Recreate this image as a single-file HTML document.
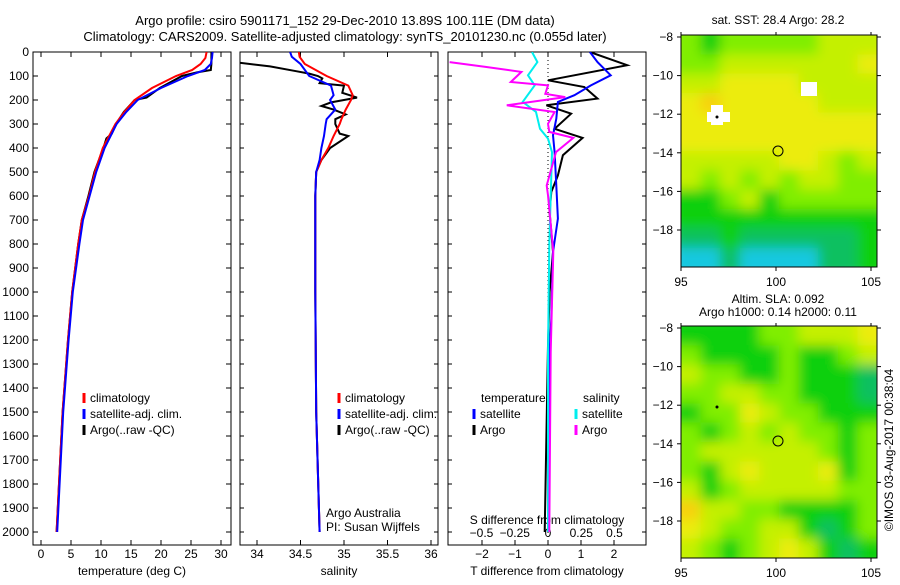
<!DOCTYPE html>
<html><head><meta charset="utf-8"><style>
body{margin:0;background:#fff;width:900px;height:580px;overflow:hidden;font-family:"Liberation Sans",sans-serif}
svg text{font-family:"Liberation Sans",sans-serif;font-size:12px;fill:#000}
</style></head><body>
<svg id="c" width="900" height="580">
<defs>
<filter id="blur" filterUnits="userSpaceOnUse" x="660" y="0" width="240" height="580"><feGaussianBlur stdDeviation="6"/></filter>
<clipPath id="m1"><rect x="681" y="35" width="196" height="232"/></clipPath>
<clipPath id="m2"><rect x="681" y="326" width="196" height="232"/></clipPath>
</defs>
<text x="345" y="25" text-anchor="middle" style="font-size:13px">Argo profile: csiro 5901171_152 29-Dec-2010 13.89S 100.11E (DM data)</text>
<text x="345" y="41" text-anchor="middle" style="font-size:13px">Climatology: CARS2009. Satellite-adjusted climatology: synTS_20101230.nc (0.055d later)</text>
<g id="panels"></g>
<g>
<text x="778" y="24" text-anchor="middle">sat. SST: 28.4 Argo: 28.2</text>
<g clip-path="url(#m1)"><g id="sstcells" filter="url(#blur)"></g></g>
<rect x="801" y="82" width="16" height="14" fill="#fff"/>
<rect x="711" y="105" width="12" height="20" fill="#fff"/><rect x="707" y="112" width="23" height="10" fill="#fff"/>
<circle cx="717" cy="117" r="1.5" fill="#000"/>
<circle cx="778" cy="151" r="5" fill="none" stroke="#000"/>
<rect x="681" y="35" width="196" height="232" fill="none" stroke="#000"/>
</g>
<text x="778" y="303" text-anchor="middle">Altim. SLA: 0.092</text>
<text x="778" y="316" text-anchor="middle">Argo h1000: 0.14 h2000: 0.11</text>
<g>
<g clip-path="url(#m2)"><g id="slacells" filter="url(#blur)"></g></g>
<circle cx="717" cy="407" r="1.5" fill="#000"/>
<circle cx="778" cy="441" r="5" fill="none" stroke="#000"/>
<rect x="681" y="326" width="196" height="232" fill="none" stroke="#000"/>
</g>
<text x="893" y="450" text-anchor="middle" transform="rotate(-90 893 450)">©IMOS 03-Aug-2017 00:38:04</text>
</svg>
<script>
const depthsT=[0,25,50,75,100,150,200,250,300,400,500,600,700,800,1000,1200,1500,2000];
const tempClim=[27.6,27.4,26.6,25.2,22.5,18.5,15.6,13.9,12.4,10.3,9.0,8.0,6.8,6.2,5.2,4.5,3.6,2.6];
const tempSat=[28.6,28.5,28.3,27.3,24.5,20.0,16.1,14.2,12.6,10.6,9.2,8.1,7.0,6.4,5.3,4.6,3.7,2.7];
const depthsArgo=[0,50,75,85,100,150,190,200,250,300,340,360,400,500,600,700,800,1000,1200,1500,2000];
const tempArgo=[28.4,28.4,28.3,26.0,23.5,19.8,17.6,15.6,13.8,12.5,11.8,10.9,10.4,8.9,7.9,6.8,6.2,5.2,4.5,3.6,2.6];
const depthsS=[0,20,50,100,140,180,200,240,280,300,350,400,450,500,600,1000,1500,2000];
const salClim=[34.48,34.49,34.55,34.8,35.05,35.1,35.08,35.02,34.97,34.95,34.88,34.82,34.74,34.68,34.67,34.67,34.68,34.72];
const salSat=[34.38,34.4,34.5,34.6,34.85,34.88,34.84,34.9,34.8,34.79,34.77,34.74,34.72,34.68,34.67,34.67,34.68,34.72];
const depthsSA=[45,60,80,90,100,110,130,140,170,190,210,225,240,260,280,300,340,350,400,450,500,600,1000,1500,2000];
const salArgo=[33.8,34.15,34.45,34.6,34.7,34.75,34.72,35.0,34.98,35.15,34.85,34.74,34.88,35.02,34.9,34.9,34.95,35.05,34.84,34.74,34.68,34.67,34.67,34.68,34.72];
const depthsTA=[0,55,118,146,194,222,257,320,358,430,514,583,667,833,1000,1222,1600,2000];
const tdiffArgo=[1.27,2.4,0.0,1.1,1.5,-0.05,0.7,0.2,1.05,0.45,0.3,0.1,0.05,0.15,0.05,0.0,-0.05,-0.1];
const depthsTS=[0,42,97,139,180,208,278,347,417,556,694,833,1111,1250,1600,2000];
const tdiffSat=[1.27,1.5,1.9,1.3,0.8,0.3,0.25,0.15,0.2,0.25,0.3,0.15,0.1,0.05,0.03,0.02];
const depthsSS=[0,42,97,139,208,250,320,361,417,800,1250,2000];
const sdiffSat=[-0.12,-0.08,-0.15,-0.1,-0.19,-0.09,-0.06,0.0,0.03,0.01,0.0,0.0];
const depthsSA2=[42,62,83,125,139,174,188,222,250,299,333,358,417,556,597,833,1250,2000];
const sdiffArgo=[-0.74,-0.47,-0.2,-0.28,0.0,-0.02,0.13,-0.31,0.05,0.0,0.01,0.19,0.06,-0.01,0.0,0.04,0.02,0.01];
const depthTicks=[0,100,200,300,400,500,600,700,800,900,1000,1100,1200,1300,1400,1500,1600,1700,1800,1900,2000];
const tTicks=[0,5,10,15,20,25,30];
const sTicks=[34,34.5,35,35.5,36];
const tdTicks=[-2,-1,0,1,2];
const sdTicks=[-0.5,-0.25,0,0.25,0.5];
const latTicks=[-8,-10,-12,-14,-16,-18];
const lonTicks=[95,100,105];
const sstLevels=[
[2,1,2,2,2,2,2,3,3,3],[2,2,3,3,3,3,3,3,3,4],[3,3,4,4,4,4,3,3,3,3],[4,5,4,4,4,4,4,3,3,3],
[4,4,4,4,4,4,4,4,4,4],[4,4,4,4,4,4,4,4,4,4],[3,3,3,3,3,4,4,3,2,3],[3,2,3,2,3,2,3,3,2,2],
[1,1,2,3,1,2,2,2,2,2],[1,1,1,1,1,1,1,1,1,1],[0,0,1,0,0,0,0,0,0,1],[6,6,0,6,6,6,6,0,0,1]];
const slaLevels=[
[1,1,1,1,2,2,3,3,3,4],[2,1,1,1,1,2,1,1,2,3],[3,2,2,1,1,2,1,1,1,0],[2,2,3,3,2,2,1,1,1,0],
[1,2,2,4,3,2,2,1,1,1],[2,1,2,3,2,3,2,2,1,2],[2,3,3,3,3,3,3,2,1,2],[2,1,3,4,3,3,3,4,1,2],
[3,1,2,3,3,3,3,3,2,2],[5,3,3,2,2,1,1,1,1,2],[4,3,2,2,3,3,1,0,1,2],[3,2,1,2,3,4,3,1,0,1]];
const palette=['#08c060','#10d010','#80ee00','#c4f000','#ecec10','#f8d010','#18c8e0'];

const NS='http://www.w3.org/2000/svg';
const G=document.getElementById('panels');
function el(tag,attrs,parent,txt){const e=document.createElementNS(NS,tag);for(const k in attrs)e.setAttribute(k,attrs[k]);if(txt!==undefined)e.textContent=txt;(parent||G).appendChild(e);return e;}
const y=d=>52+d*0.24;
const xT=t=>41+t*6;
const xS=s=>257+(s-34)*87;
const xTD=v=>548+v*33;
const xSD=v=>548+v*133;
const PB=545;

function heat(id,levels,top){
  const g=document.getElementById(id);
  const cw=196/10, ch=232/12;
  levels.forEach((row,r)=>row.forEach((v,c)=>{
    const e=el('rect',{x:(681+c*cw-(c==0?10:0)).toFixed(1),y:(top+r*ch-(r==0?10:0)).toFixed(1),width:(cw+(c==0||c==9?10:0)+0.5).toFixed(1),height:(ch+(r==0||r==11?10:0)+0.5).toFixed(1),fill:palette[v]},g);
    
    
  }));
}
heat('sstcells',sstLevels,35);heat('slacells',slaLevels,326);

function box(x0,w,name){
  const b=el('rect',{x:x0,y:52,width:w,height:493,fill:'none',stroke:'#000'});
  
  
}
box(33,198,'temperature-panel');box(240,198,'salinity-panel');box(448,198,'difference-panel');
depthTicks.forEach(d=>{
  [[33,38],[226,231],[240,244],[434,438],[448,452],[642,646]].forEach(([a,b])=>el('line',{x1:a,y1:y(d),x2:b,y2:y(d),stroke:'#000'}));
  const t=el('text',{x:29,y:y(d)+4,'text-anchor':'end'},G,d);
  
  
});
function xticks(arr,fx,yb,label){arr.forEach(v=>{
  el('line',{x1:fx(v),y1:PB,x2:fx(v),y2:PB-5,stroke:'#000'});
  el('line',{x1:fx(v),y1:52,x2:fx(v),y2:57,stroke:'#000'});
  const t=el('text',{x:fx(v),y:yb,'text-anchor':'middle'},G,label(v));
  
  
});}
xticks(tTicks,xT,558,v=>v);
xticks(sTicks,xS,558,v=>v);
xticks(tdTicks,xTD,558,v=>v<0?'\u2212'+(-v):v);
sdTicks.forEach(v=>{const t=el('text',{x:xSD(v),y:537,'text-anchor':'middle'},G,v<0?'\u2212'+(-v):v);
  });
[['temperature (deg C)',132],['salinity',339],['T difference from climatology',547]].forEach(([s,x])=>{
  const t=el('text',{x:x,y:575,'text-anchor':'middle'},G,s);
  });
const st=el('text',{x:547,y:524,'text-anchor':'middle'},G,'S difference from climatology');


const cp=el('clipPath',{id:'clipall'});
[[33,198],[240,198],[448,198]].forEach(([x,w])=>el('rect',{x:x,y:52,width:w,height:493},cp));
const L=el('g',{'clip-path':'url(#clipall)'});
function line(ds,vs,fx,col,name,w){
  const p=el('polyline',{points:ds.map((d,i)=>fx(vs[i]).toFixed(1)+','+y(d).toFixed(1)).join(' '),fill:'none',stroke:col,'stroke-width':w||2},L);
  
  
}
el('line',{x1:548,y1:52,x2:548,y2:545,stroke:'#000','stroke-dasharray':'1,3'},L);
line(depthsArgo,tempArgo,xT,'#000','temp-argo-line');
line(depthsT,tempClim,xT,'#f00','temp-clim-line');
line(depthsT,tempSat,xT,'#00f','temp-sat-line');
line(depthsSA,salArgo,xS,'#000','sal-argo-line');
line(depthsS,salClim,xS,'#f00','sal-clim-line');
line(depthsS,salSat,xS,'#00f','sal-sat-line');
line(depthsTA,tdiffArgo,xTD,'#000','tdiff-argo-line');
line(depthsTS,tdiffSat,xTD,'#00f','tdiff-sat-line');
line(depthsSS,sdiffSat,xSD,'#0ee','sdiff-sat-line');
line(depthsSA2,sdiffArgo,xSD,'#f0f','sdiff-argo-line');

function legend(x,yy,items){items.forEach(([c,s],i)=>{
  el('line',{x1:x,y1:yy+i*16-9,x2:x,y2:yy+i*16+1,stroke:c,'stroke-width':3});
  const t=el('text',{x:x+6,y:yy+i*16},G,s);
  });}
legend(84,402,[['#f00','climatology'],['#00f','satellite-adj. clim.'],['#000','Argo(..raw -QC)']]);
legend(339,402,[['#f00','climatology'],['#00f','satellite-adj. clim.'],['#000','Argo(..raw -QC)']]);
el('text',{x:481,y:402},G,'temperature');
legend(474,418,[['#00f','satellite'],['#000','Argo']]);
el('text',{x:583,y:402},G,'salinity');
legend(576,418,[['#0ee','satellite'],['#f0f','Argo']]);
el('text',{x:326,y:517},G,'Argo Australia');
el('text',{x:326,y:531},G,'PI: Susan Wijffels');

function mapAxes(top,name){
  latTicks.forEach(v=>{const yy=top+2+(-8-v)*19.3;
    el('line',{x1:677,y1:yy,x2:681,y2:yy,stroke:'#000'});
    el('line',{x1:877,y1:yy,x2:881,y2:yy,stroke:'#000'});
    const t=el('text',{x:673,y:yy+4,'text-anchor':'end'},G,'\u2212'+(-v));
    });
  lonTicks.forEach(v=>{const xx=681+(v-95)*19;
    el('line',{x1:xx,y1:top-3,x2:xx,y2:top,stroke:'#000'});
    el('line',{x1:xx,y1:top+232,x2:xx,y2:top+236,stroke:'#000'});
    const t=el('text',{x:xx,y:top+251,'text-anchor':'middle'},G,v);
    });
}
mapAxes(35,'sst-map');mapAxes(326,'sla-map');
</script>
</body></html>
